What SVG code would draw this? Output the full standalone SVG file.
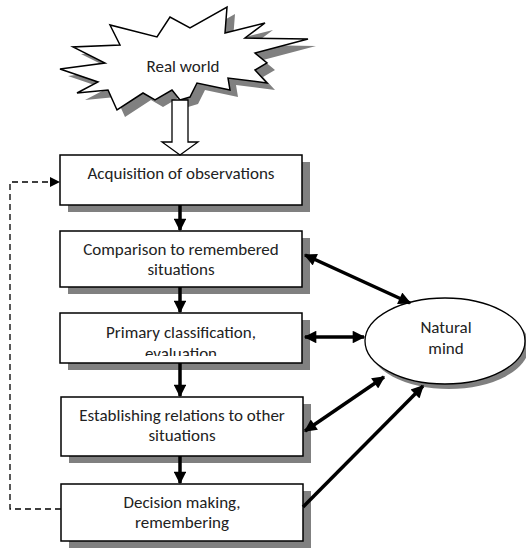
<svg xmlns="http://www.w3.org/2000/svg" width="526" height="550" viewBox="0 0 526 550">
<defs>
<style>
.box{fill:#fff;stroke:#000;stroke-width:1.5}
.sh{fill:#808080}
.t{font-family:Carlito,"Liberation Sans",Arial,sans-serif;font-size:17px;fill:#222;text-anchor:middle}
.c{stroke:#000;stroke-width:3.5;fill:none}
</style>
<marker id="ah" viewBox="0 0 10 10" refX="9" refY="5" markerWidth="4" markerHeight="3.6" orient="auto-start-reverse" markerUnits="strokeWidth">
<path d="M0,0L10,5L0,10z" fill="#000"/>
</marker>
<marker id="dh" viewBox="0 0 10 10" refX="9" refY="5" markerWidth="10" markerHeight="10" orient="auto" markerUnits="userSpaceOnUse">
<path d="M0,0L10,5L0,10z" fill="#000"/>
</marker>
<clipPath id="clip3"><rect x="60" y="313" width="242" height="43"/></clipPath>
</defs>

<g id="real-world">
<polygon class="sh" transform="translate(8,7)" points="110,25 120,45 73,47 105,63 60,69 98,82 77,93 108,90 117,110 143,93 155,100 172,90 180,100 190,97 197,83 230,90 228,78 267,83 255,70 267,63 255,53 308,39 245,38 265,23 225,33 227,7 190,28 170,17 157,37"/>
<polygon fill="#fff" stroke="#000" stroke-width="1.5" points="110,25 120,45 73,47 105,63 60,69 98,82 77,93 108,90 117,110 143,93 155,100 172,90 180,100 190,97 197,83 230,90 228,78 267,83 255,70 267,63 255,53 308,39 245,38 265,23 225,33 227,7 190,28 170,17 157,37"/>
<text class="t" x="183" y="72">Real world</text>
</g>

<g id="n1">
<rect class="sh" x="68" y="162" width="242" height="50"/>
<rect class="box" x="60" y="155" width="242" height="50"/>
<text class="t" x="181" y="179">Acquisition of observations</text>
</g>

<g id="n2">
<rect class="sh" x="68" y="238" width="242" height="56"/>
<rect class="box" x="60" y="231" width="242" height="56"/>
<text class="t" x="181" y="255">Comparison to remembered</text>
<text class="t" x="181" y="275">situations</text>
</g>

<g id="n3">
<rect class="sh" x="68" y="320" width="242" height="50"/>
<rect class="box" x="60" y="313" width="242" height="50"/>
<g clip-path="url(#clip3)">
<text class="t" x="181" y="338">Primary classification,</text>
<text class="t" x="181" y="359">evaluation</text>
</g>
</g>

<g id="n4">
<rect class="sh" x="69" y="404" width="242" height="59"/>
<rect class="box" x="61" y="397" width="242" height="59"/>
<text class="t" x="182" y="421">Establishing relations to other</text>
<text class="t" x="182" y="441">situations</text>
</g>

<g id="n5">
<rect class="sh" x="69" y="491" width="242" height="57"/>
<rect class="box" x="61" y="484" width="242" height="57"/>
<text class="t" x="182" y="508">Decision making,</text>
<text class="t" x="182" y="528">remembering</text>
</g>

<g id="mind">
<ellipse class="sh" cx="449" cy="346" rx="80" ry="43"/>
<ellipse fill="#fff" stroke="#000" stroke-width="1.3" cx="445" cy="341" rx="80" ry="43"/>
<text class="t" x="446" y="333">Natural</text>
<text class="t" x="446" y="354">mind</text>
</g>

<g id="connectors">
<polygon fill="#fff" stroke="#000" stroke-width="1.3" points="172,100 188,100 188,142 198,142 180,155 162,142 172,142"/>
<line class="c" x1="180" y1="205" x2="180" y2="230" marker-end="url(#ah)"/>
<line class="c" x1="180" y1="287" x2="180" y2="312" marker-end="url(#ah)"/>
<line class="c" x1="180" y1="363" x2="180" y2="396" marker-end="url(#ah)"/>
<line class="c" x1="180" y1="456" x2="180" y2="483" marker-end="url(#ah)"/>
<line class="c" x1="305" y1="255" x2="410" y2="303" marker-start="url(#ah)" marker-end="url(#ah)"/>
<line class="c" x1="305" y1="337" x2="364" y2="337" marker-start="url(#ah)" marker-end="url(#ah)"/>
<line class="c" x1="305" y1="431" x2="384" y2="377" marker-start="url(#ah)" marker-end="url(#ah)"/>
<line class="c" x1="303" y1="507" x2="423" y2="386" marker-end="url(#ah)"/>
<polyline fill="none" stroke="#000" stroke-width="1.3" stroke-dasharray="6,4" points="61,509 10,509 10,182 59,182" marker-end="url(#dh)"/>
</g>
</svg>
